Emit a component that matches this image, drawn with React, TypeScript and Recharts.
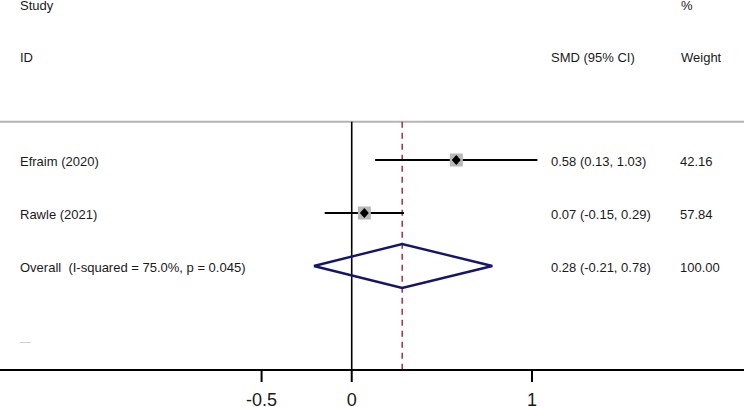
import React from 'react';
import {
  ComposedChart,
  Scatter,
  XAxis,
  YAxis,
  ReferenceLine,
} from 'recharts';

// Forest plot data
const studies = ['Efraim (2020)', 'Rawle (2021)'];
const smd = [0.58, 0.07];
const lower = [0.13, -0.15];
const upper = [1.03, 0.29];
const weights = ['42.16', '57.84'];

const overallLabel = 'Overall  (I-squared = 75.0%, p = 0.045)';
const overallEst = 0.28;
const overallLower = -0.21;
const overallUpper = 0.78;
const overallWeight = '100.00';

const xTicks = [-0.5, 0, 1];

// row index for each line of the table (0 = top rule)
const studyRows = [1, 2];
const overallRow = 3;

const W = 744;
const H = 407;
const AXIS_H = 37;
const ROW0 = 107; // pixel of row 0
const ROW_H = 53;

const yTop = -ROW0 / ROW_H;
const yBottom = (H - AXIS_H - ROW0) / ROW_H;
const ruleY = (121.7 - ROW0) / ROW_H;
const xDomain = [-1.951, 2.176];

const colors = {
  text: '#1a1a1a',
  ci: '#000000',
  box: '#b8b8b8',
  diamond: '#15156e',
  dash: '#9b2335',
  rule: '#b4b4b4',
};

const font = '"Liberation Sans", Arial, sans-serif';

function BoxShape(props: any) {
  const { cx, cy } = props;
  const s = 13;
  const d = 4.5;
  return (
    <g>
      <rect x={cx - s / 2} y={cy - s / 2} width={s} height={s} fill={colors.box} />
      <polygon
        points={`${cx - d},${cy} ${cx},${cy - d - 0.5} ${cx + d},${cy} ${cx},${cy + d + 0.5}`}
        fill="#000"
      />
    </g>
  );
}

const NoShape = () => <g />;

function Tick(props: any) {
  const { x, y, payload } = props;
  return (
    <text x={x} y={y} dy="0.71em" textAnchor="middle" fontSize={18} fill={colors.text} fontFamily={font}>
      {payload.value}
    </text>
  );
}

function Cell({ x, y, children }: { x: number; y: number; children: React.ReactNode }) {
  return (
    <div
      style={{
        position: 'absolute',
        left: x,
        top: y,
        transform: 'translateY(-50%)',
        fontSize: 13,
        fontFamily: font,
        color: colors.text,
        whiteSpace: 'pre',
        lineHeight: '15px',
      }}
    >
      {children}
    </div>
  );
}

export default function App() {
  const rowPix = (r: number) => ROW0 + r * ROW_H;

  const boxes = studies.map((s, i) => ({ x: smd[i], y: studyRows[i] }));
  const ciLines = studies.map((s, i) => [
    { x: lower[i], y: studyRows[i] },
    { x: upper[i], y: studyRows[i] },
  ]);
  const half = 0.415;
  const diamond = [
    { x: overallLower, y: overallRow },
    { x: overallEst, y: overallRow - half },
    { x: overallUpper, y: overallRow },
    { x: overallEst, y: overallRow + half },
    { x: overallLower, y: overallRow },
  ];

  return (
    <div style={{ position: 'absolute', left: 0, top: 0, width: W, height: H, background: '#fff', overflow: 'hidden' }}>
      <ComposedChart width={W} height={H} margin={{ top: 0, right: 0, bottom: 0, left: 0 }}>
        <XAxis
          type="number"
          dataKey="x"
          domain={xDomain}
          allowDataOverflow
          ticks={xTicks}
          height={AXIS_H}
          axisLine={{ stroke: '#000', strokeWidth: 2 }}
          tickLine={{ stroke: '#000', strokeWidth: 2 }}
          tickSize={12}
          tickMargin={11}
          tick={<Tick />}
          interval={0}
        />
        <YAxis type="number" dataKey="y" domain={[yTop, yBottom]} reversed allowDataOverflow hide width={0} />

        <ReferenceLine y={ruleY} stroke={colors.rule} strokeWidth={2} />
        <ReferenceLine
          segment={[{ x: 0, y: ruleY }, { x: 0, y: yBottom }]}
          stroke="#000"
          strokeWidth={1.6}
        />
        <ReferenceLine
          segment={[{ x: overallEst, y: ruleY }, { x: overallEst, y: yBottom }]}
          stroke={colors.dash}
          strokeWidth={1.4}
          strokeDasharray="6 5"
        />

        {ciLines.map((d, i) => (
          <Scatter
            key={`ci-${i}`}
            data={d}
            line={{ stroke: colors.ci, strokeWidth: 2.2 }}
            shape={<NoShape />}
            isAnimationActive={false}
          />
        ))}
        <Scatter data={boxes} shape={<BoxShape />} isAnimationActive={false} />
        <Scatter
          data={diamond}
          line={{ stroke: colors.diamond, strokeWidth: 2.4 }}
          shape={<NoShape />}
          isAnimationActive={false}
        />
      </ComposedChart>

      {/* header */}
      <Cell x={20} y={5}>Study</Cell>
      <Cell x={681} y={5}>%</Cell>
      <Cell x={20} y={57}>ID</Cell>
      <Cell x={551} y={57}>SMD (95% CI)</Cell>
      <Cell x={681} y={57}>Weight</Cell>

      {studies.map((s, i) => (
        <React.Fragment key={s}>
          <Cell x={20} y={rowPix(studyRows[i]) + 1}>{s}</Cell>
          <Cell x={551} y={rowPix(studyRows[i]) + 1}>
            {`${smd[i].toFixed(2)} (${lower[i].toFixed(2)}, ${upper[i].toFixed(2)})`}
          </Cell>
          <Cell x={680} y={rowPix(studyRows[i]) + 1}>{weights[i]}</Cell>
        </React.Fragment>
      ))}
      <Cell x={20} y={rowPix(overallRow) + 1}>{overallLabel}</Cell>
      <Cell x={551} y={rowPix(overallRow) + 1}>
        {`${overallEst.toFixed(2)} (${overallLower.toFixed(2)}, ${overallUpper.toFixed(2)})`}
      </Cell>
      <Cell x={680} y={rowPix(overallRow) + 1}>{overallWeight}</Cell>

      <div style={{ position: 'absolute', left: 20, top: 342, width: 11, height: 1, background: '#d0d0d0' }} />
    </div>
  );
}
